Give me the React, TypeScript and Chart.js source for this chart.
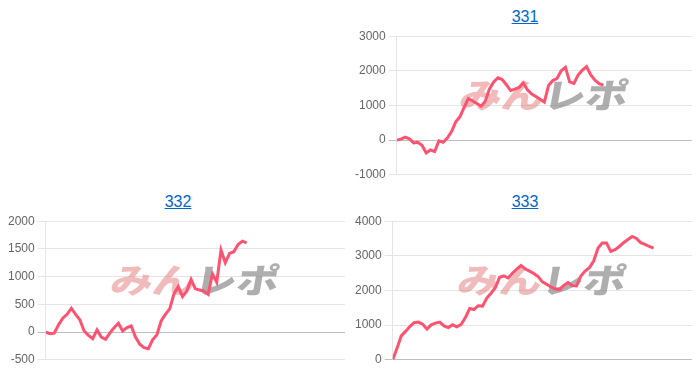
import React, { useEffect, useRef } from "react";
import { Chart, registerables } from "chart.js";

Chart.register(...registerables);

// x positions run from 0 to this last slot (hidden axis)
const lastSlot = 70;

const titles = ["331", "332", "333"];

const values331 = [
  0, 30, 90, 40, -80, -60, -150, -370, -280, -330, -20, -60, 60, 250, 530, 680,
  950, 1200, 1130, 1060, 980, 1120, 1480, 1680, 1800, 1750, 1600, 1430, 1470,
  1520, 1650, 1450, 1330, 1260, 1180, 1100, 1580, 1720, 1780, 2000, 2100, 1680,
  1640, 1880, 2020, 2120, 1880, 1730, 1630, 1590,
];

const values332 = [
  0, -30, -20, 130, 250, 320, 430, 320, 220, 20, -60, -120, 40, -90, -130, -20,
  80, 160, 20, 80, 110, -90, -220, -280, -300, -140, -50, 200, 320, 420, 690,
  820, 640, 740, 950, 780, 760, 740, 680, 1050, 900, 1480, 1250, 1420, 1450,
  1580, 1640, 1610,
];

const values333 = [
  0, 330, 690, 820, 960, 1070, 1090, 1030, 890, 1010, 1060, 1090, 980, 930,
  1010, 950, 1020, 1220, 1480, 1450, 1560, 1550, 1780, 1920, 2080, 2380, 2420,
  2360, 2500, 2620, 2720, 2620, 2560, 2490, 2400, 2250, 2180, 2100, 2050, 2020,
  2150, 2230, 2140, 2130, 2420, 2560, 2660, 2850, 3220, 3370, 3370, 3130, 3180,
  3270, 3380, 3470, 3560, 3500, 3380, 3330, 3270, 3220,
];

const yMins = [-1000, -500, 0];
const yMaxs = [3000, 2000, 4000];
const ySteps = [1000, 500, 1000];

const lineColor = "rgb(255, 82, 112)";
const tickFont = "'Liberation Sans', Arial, Helvetica, sans-serif";

const watermark = {
  id: "watermark",
  beforeDatasetsDraw(chart: any) {
    const { ctx, chartArea } = chart;
    const cx = (chartArea.left + chartArea.right) / 2;
    const cy = (chartArea.top + chartArea.bottom) / 2 - 10;
    ctx.save();
    ctx.translate(cx, cy);
    ctx.transform(1, 0, -0.18, 1, 0, 0);
    ctx.font = "900 40px 'Noto Sans CJK JP'";
    ctx.textBaseline = "middle";
    const a = "みん";
    const b = "レポ";
    const wa = ctx.measureText(a).width;
    const wb = ctx.measureText(b).width;
    const scaleX = 168 / (wa + wb);
    ctx.scale(scaleX, 0.85);
    const start = -(wa + wb) / 2;
    ctx.fillStyle = "rgba(228, 120, 120, 0.5)";
    ctx.fillText(a, start, 0);
    ctx.fillStyle = "rgba(120, 120, 120, 0.6)";
    ctx.fillText(b, start + wa, 0);
    ctx.restore();
  },
};

type PanelProps = {
  title: string;
  values: number[];
  yMin: number;
  yMax: number;
  yStep: number;
  left: number;
  top: number;
};

function Panel({ title, values, yMin, yMax, yStep, left, top }: PanelProps) {
  const ref = useRef<HTMLCanvasElement | null>(null);
  useEffect(() => {
    if (!ref.current) return;
    const chart = new Chart(ref.current, {
      type: "line",
      data: {
        datasets: [
          {
            data: values.map((v, i) => ({ x: i, y: v })),
            borderColor: lineColor,
            backgroundColor: lineColor,
            borderWidth: 3,
            pointRadius: 0,
            tension: 0,
            fill: false,
          },
        ],
      },
      options: {
        responsive: false,
        animation: false,
        devicePixelRatio: 1,
        layout: { padding: 0 },
        plugins: { legend: { display: false }, tooltip: { enabled: false } },
        scales: {
          x: { type: "linear", min: 0, max: lastSlot, display: false },
          y: {
            min: yMin,
            max: yMax,
            ticks: {
              stepSize: yStep,
              color: "#666",
              font: { size: 12, family: tickFont },
              padding: 3,
              callback: (v: any) => String(v),
            },
            grid: {
              color: (c: any) =>
                c.tick && c.tick.value === 0 ? "rgba(0,0,0,0.25)" : "rgba(0,0,0,0.1)",
              lineWidth: 1,
              tickLength: 8,
            },
            border: { display: true, color: "rgba(0,0,0,0.1)" },
          },
        },
      },
      plugins: [watermark],
    } as any);
    return () => chart.destroy();
  }, [values, yMin, yMax, yStep]);

  return (
    <div style={{ position: "absolute", left, top, width: 350, height: 185 }}>
      <div
        style={{
          position: "absolute",
          left: 0,
          top: 8,
          width: 350,
          height: 18,
          lineHeight: "18px",
          textAlign: "center",
          fontFamily: tickFont,
          fontSize: 16,
        }}
      >
        <a href="#" style={{ color: "#0066cc", textDecoration: "underline" }}>
          {title}
        </a>
      </div>
      <canvas
        ref={ref}
        width={340}
        height={159}
        style={{ position: "absolute", left: 2, top: 26, width: 340, height: 159 }}
      />
    </div>
  );
}

export default function App() {
  return (
    <div
      style={{
        position: "absolute",
        left: 0,
        top: 0,
        width: 700,
        height: 376,
        background: "#fff",
        overflow: "hidden",
      }}
    >
      <Panel title={titles[0]} values={values331} yMin={yMins[0]} yMax={yMaxs[0]} yStep={ySteps[0]} left={350} top={0} />
      <Panel title={titles[1]} values={values332} yMin={yMins[1]} yMax={yMaxs[1]} yStep={ySteps[1]} left={3} top={185} />
      <Panel title={titles[2]} values={values333} yMin={yMins[2]} yMax={yMaxs[2]} yStep={ySteps[2]} left={350} top={185} />
    </div>
  );
}
